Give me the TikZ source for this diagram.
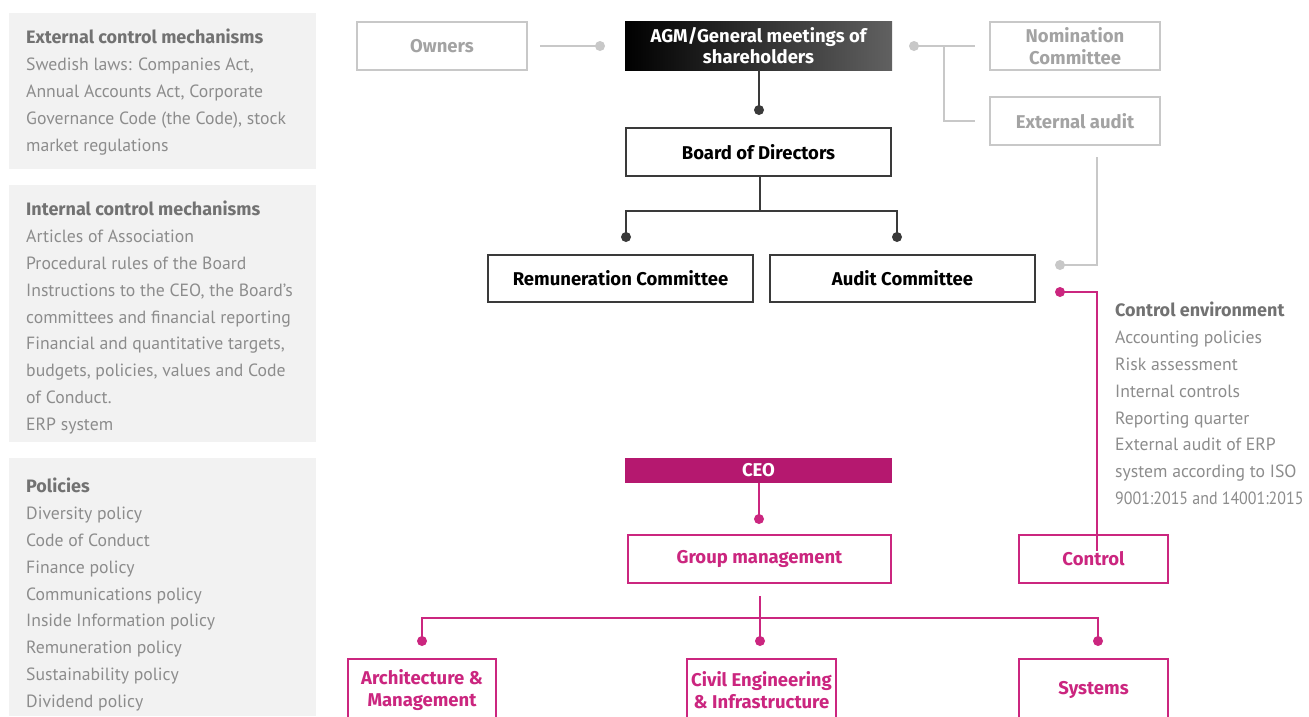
\documentclass[tikz,border=0pt]{standalone}
\usepackage{fontspec}
\setmainfont{PT Sans}
\newfontfamily\labelfont{Fira Sans}
\usetikzlibrary{calc}
\definecolor{lgray}{HTML}{C8C8C8}
\definecolor{lgtext}{HTML}{A3A3A3}
\definecolor{panel}{HTML}{F2F2F2}
\definecolor{bodytxt}{HTML}{8C8C8C}
\definecolor{titletxt}{HTML}{727272}
\definecolor{dark}{HTML}{3A3A3A}
\definecolor{mag}{HTML}{CB267F}
\definecolor{ceofill}{HTML}{B5186F}
\newcommand{\lbl}{\labelfont\fontsize{18.5}{21.5}\selectfont\bfseries}
\newcommand{\ttl}[1]{\textcolor{titletxt}{\labelfont\bfseries\fontsize{18}{26.8}\selectfont #1}}
\tikzset{
  graybox/.style={draw=lgray, line width=2.5pt, text=lgtext, font=\lbl, align=center, inner sep=0pt},
  darkbox/.style={draw=dark, line width=2.5pt, text=black, font=\lbl, align=center, inner sep=0pt},
  magbox/.style={draw=mag, line width=2.5pt, text=mag, font=\lbl, align=center, inner sep=0pt},
  gline/.style={draw=lgray, line width=2pt},
  dline/.style={draw=dark, line width=2pt},
  mline/.style={draw=mag, line width=2pt},
  gdot/.style={fill=lgray, draw=none, circle, minimum size=10pt, inner sep=0pt},
  ddot/.style={fill=dark, draw=none, circle, minimum size=10pt, inner sep=0pt},
  mdot/.style={fill=mag, draw=none, circle, minimum size=10pt, inner sep=0pt},
  paneltext/.style={anchor=north west, align=left, inner sep=0pt, text=bodytxt, font=\fontsize{17.7}{26.8}\selectfont},
}
\begin{document}
\begin{tikzpicture}[x=1pt,y=-1pt]
\clip (0,0) rectangle (1309,716);
\useasboundingbox (0,0) rectangle (1309,716);
\fill[white] (0,0) rectangle (1309,716);

% left panels
\fill[panel] (9,13) rectangle (316,169);
\fill[panel] (9,185) rectangle (316,442);
\fill[panel] (9,458) rectangle (316,716);
\node[paneltext] (ext) at (26,29) {\ttl{External control mechanisms}\\Swedish laws: Companies Act,\\Annual Accounts Act, Corporate\\Governance Code (the Code), stock\\market regulations};
\node[paneltext] (int) at (26,201) {\ttl{Internal control mechanisms}\\Articles of Association\\Procedural rules of the Board\\Instructions to the CEO, the Board's\\committees and financial reporting\\Financial and quantitative targets,\\budgets, policies, values and Code\\of Conduct.\\ERP system};
\node[paneltext] (pol) at (26,478) {\ttl{Policies}\\Diversity policy\\Code of Conduct\\Finance policy\\Communications policy\\Inside Information policy\\Remuneration policy\\Sustainability policy\\Dividend policy};
\node[paneltext] (env) at (1115,302) {\ttl{Control environment}\\Accounting policies\\Risk assessment\\Internal controls\\Reporting quarter\\External audit of ERP\\system according to ISO\\\scalebox{0.9}[1]{9001:2015 and 14001:2015}};

% top boxes
\node[graybox, minimum width=170, minimum height=48] (owners) at (442,46) {Owners};
\node[inner sep=0pt, minimum width=267, minimum height=49, left color=black, right color=black!62, text=white, font=\lbl, align=center] (agm) at (758.5,45.5) {AGM/General meetings of\\shareholders};
\node[graybox, minimum width=170, minimum height=48] (nom) at (1075,46) {Nomination\\Committee};
\node[graybox, minimum width=170, minimum height=48] (eaud) at (1075,121) {External audit};
\node[darkbox, minimum width=265, minimum height=48] (board) at (758.5,152) {Board of Directors};
\node[darkbox, minimum width=265, minimum height=47] (rem) at (620.5,278.5) {Remuneration Committee};
\node[darkbox, minimum width=265, minimum height=47] (audit) at (902.5,278.5) {Audit Committee};

% CEO and below
\node[fill=ceofill, inner sep=0pt, minimum width=267, minimum height=25, text=white, font=\lbl] (ceo) at (758.5,470.5) {CEO};
\node[magbox, minimum width=263, minimum height=48] (gm) at (759.5,559) {Group management};
\node[magbox, minimum width=149, minimum height=48] (ctrl) at (1093.5,559) {Control};
\node[magbox, minimum width=148, minimum height=62] (arch) at (422,690) {Architecture \&\\Management};
\node[magbox, minimum width=149, minimum height=62] (civil) at (761.5,690) {Civil Engineering\\\& Infrastructure};
\node[magbox, minimum width=149, minimum height=62] (sys) at (1093.5,690) {Systems};

% gray connectors
\node[gdot] (d1) at (600,46) {};
\draw[gline] ([xshift=12pt]owners.east) -- (d1.center);
\node[gdot] (d2) at (914,46) {};
\coordinate (j1) at (944,46);
\draw[gline] (d2.center) -- ([xshift=-14pt]nom.west);
\draw[gline] (j1) -- (j1 |- eaud.west) -- ([xshift=-14pt]eaud.west);
\node[gdot] (d3) at (1060,265) {};
\coordinate (j2) at (1097,265);
\draw[gline] ([yshift=-11pt]eaud.south -| j2) -- (j2) -- (d3.center);

% dark connectors
\node[ddot] (d4) at (759,110) {};
\draw[dline] (agm.south -| d4) -- (d4.center);
\node[ddot] (d5) at (626,237) {};
\node[ddot] (d6) at (897,237) {};
\coordinate (j3) at (760,211);
\draw[dline] (board.south -| j3) -- (j3);
\draw[dline] (d5.center) -- (d5 |- j3) -- (d6 |- j3) -- (d6.center);

% magenta connectors
\node[mdot] (d7) at (1060,292) {};
\coordinate (j4) at (1097,292);
\draw[mline] (d7.center) -- (j4) -- ([yshift=-17pt]ctrl.north -| j4);
\node[mdot] (d8) at (759,519) {};
\draw[mline] (ceo.south -| d8) -- (d8.center);
\node[mdot] (d9) at (422,641) {};
\node[mdot] (d10) at (760,641) {};
\node[mdot] (d11) at (1098,641) {};
\coordinate (j5) at (760,618);
\draw[mline] ([yshift=-12pt]gm.south -| d10) -- (d10.center);
\draw[mline] (d9.center) -- (d9 |- j5) -- (d11 |- j5) -- (d11.center);
\end{tikzpicture}
\end{document}
